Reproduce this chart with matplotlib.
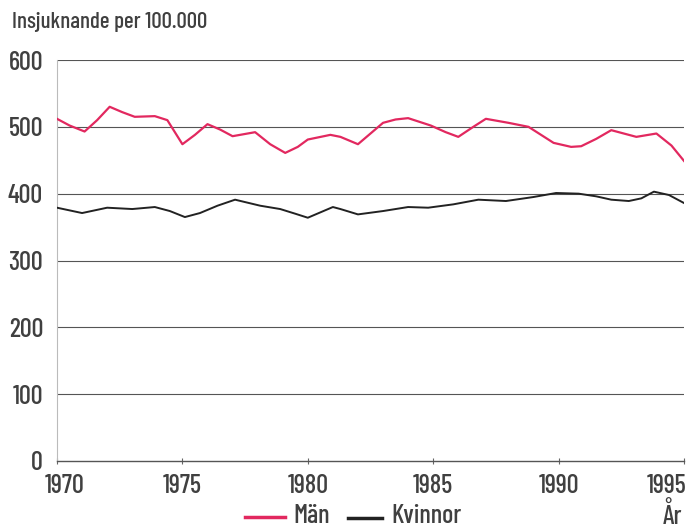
import matplotlib.pyplot as plt
from matplotlib.lines import Line2D
from matplotlib.transforms import ScaledTranslation

# Insjuknande per 100.000
ar_man = [1970.0, 1970.5, 1971.1, 1971.6, 1972.1, 1972.6, 1973.1, 1973.9, 1974.4,
          1975.0, 1975.5, 1976.0, 1976.5, 1977.0, 1977.9, 1978.5, 1979.1, 1979.6,
          1980.0, 1980.9, 1981.3, 1982.0, 1982.5, 1983.0, 1983.5, 1984.0, 1984.9,
          1985.5, 1986.0, 1986.6, 1987.1, 1988.0, 1988.8, 1989.3, 1989.8, 1990.5,
          1990.9, 1991.5, 1992.1, 1993.1, 1993.9, 1994.5, 1995.0]
man = [512, 502, 493, 510, 530, 522, 515, 516, 510,
       474, 488, 504, 496, 486, 492, 474, 461, 470,
       481, 488, 485, 474, 490, 506, 511, 513, 502,
       492, 485, 500, 512, 506, 500, 488, 476, 470,
       471, 482, 495, 485, 490, 472, 449]

ar_kvinnor = [1970.0, 1971.0, 1972.0, 1973.0, 1973.9, 1974.5, 1975.1, 1975.7, 1976.4,
              1977.1, 1978.1, 1978.9, 1979.5, 1980.0, 1981.0, 1981.3, 1982.0, 1983.0,
              1984.0, 1984.8, 1985.8, 1986.8, 1987.9, 1989.0, 1989.9, 1990.8, 1991.5,
              1992.1, 1992.8, 1993.3, 1993.8, 1994.4, 1995.0]
kvinnor = [379, 371, 379, 377, 380, 374, 365, 371, 382,
           391, 382, 377, 370, 364, 380, 377, 369, 374,
           380, 379, 384, 391, 389, 395, 401, 400, 396,
           391, 389, 393, 403, 398, 386]

y_ticks = [0, 100, 200, 300, 400, 500, 600]
x_ticks = [1970, 1975, 1980, 1985, 1990, 1995]

font = ['Barlow Condensed', 'DejaVu Sans']
textfarg = '#404040'
rod = '#e2285f'
svart = '#222222'

fig = plt.figure(figsize=(6.89, 5.29), dpi=100)
ax = fig.add_axes([57 / 689, 1 - 461 / 529, 627 / 689, 401 / 529])

for y in y_ticks[1:]:
    ax.axhline(y, color='#555555', lw=0.8, zorder=1)

ax.plot(ar_man, man, color=rod, lw=1.6, zorder=3)
ax.plot(ar_kvinnor, kvinnor, color=svart, lw=1.4, zorder=3)

ax.set_xlim(1970, 1995)
ax.set_ylim(0, 600)
ax.set_xticks(x_ticks)
ax.set_yticks(y_ticks)
ax.set_xticklabels([str(x) for x in x_ticks], family=font, fontsize=19, color=textfarg,
                   fontweight='medium')
ax.set_yticklabels([str(y) for y in y_ticks], family=font, fontsize=19, color=textfarg,
                   fontweight='medium')
ax.tick_params(axis='y', length=0, pad=10)
ax.tick_params(axis='x', direction='inout', length=5, color='#666666', pad=7)

# första och sista årtalet ligger innanför ändarna
xl = ax.get_xticklabels()
xl[0].set_transform(xl[0].get_transform() + ScaledTranslation(8 / 100, 0, fig.dpi_scale_trans))
xl[-1].set_ha('right')
xl[-1].set_transform(xl[-1].get_transform() + ScaledTranslation(2 / 100, 0, fig.dpi_scale_trans))

for s in ['top', 'right']:
    ax.spines[s].set_visible(False)
ax.spines['left'].set_color('#bbbbbb')
ax.spines['left'].set_linewidth(0.8)
ax.spines['bottom'].set_color('#555555')
ax.spines['bottom'].set_linewidth(1.0)

fig.text(12 / 689, 1 - 22 / 529, 'Insjuknande per 100.000', family=font, fontsize=16.5,
         color=textfarg, fontweight='medium', va='center', ha='left')
fig.text(672 / 689, 1 - 516 / 529, 'År', family=font, fontsize=19, color=textfarg,
         fontweight='medium', va='center', ha='center')

# legend längst ner
fig.add_artist(Line2D([245 / 689, 285 / 689], [1 - 517 / 529] * 2, color=rod, lw=2.5))
fig.text(293 / 689, 1 - 516 / 529, 'Män', family=font, fontsize=19, color=textfarg,
         fontweight='medium', va='center', ha='left')
fig.add_artist(Line2D([348 / 689, 382 / 689], [1 - 518 / 529] * 2, color=svart, lw=2.5))
fig.text(391 / 689, 1 - 516 / 529, 'Kvinnor', family=font, fontsize=19, color=textfarg,
         fontweight='medium', va='center', ha='left')

fig.savefig('out.png', dpi=100)
